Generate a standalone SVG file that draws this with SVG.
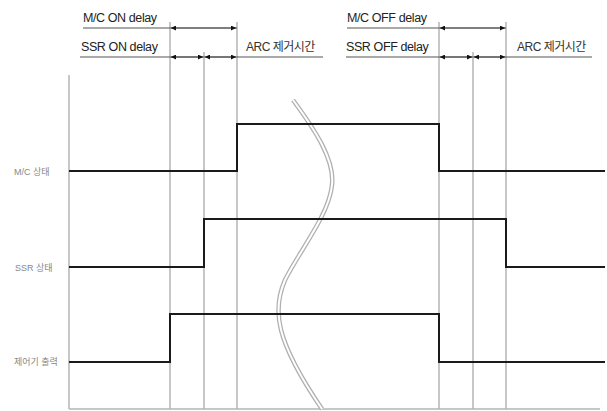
<svg xmlns="http://www.w3.org/2000/svg" width="607" height="411" viewBox="0 0 607 411">
<style>
.guide{stroke:#b4b4b4;stroke-width:1.5;fill:none}
.dim{stroke:#555;stroke-width:1.2;fill:none}
.wave{stroke:#1a1a1a;stroke-width:2;fill:none}
.t{font-family:"Liberation Sans",Arial,sans-serif;font-size:12.5px;fill:#222;letter-spacing:-0.4px}
.arc{font-family:"Liberation Sans","Noto Sans CJK KR",sans-serif;font-size:12px;fill:#333;letter-spacing:-0.5px}
.lab{font-family:"Liberation Sans","Noto Sans CJK KR",sans-serif;font-size:9px;fill:#888}
</style>
<defs>
<marker id="ah" viewBox="0 0 10 10" refX="10" refY="5" markerWidth="6" markerHeight="5" markerUnits="userSpaceOnUse" orient="auto-start-reverse">
<path d="M0,0 L10,5 L0,10 z" fill="#111"/>
</marker>
</defs>
<rect width="607" height="411" fill="#fff"/>
<g id="axes">
<line class="guide" x1="69" y1="75" x2="69" y2="409"/>
<line class="guide" x1="69" y1="409" x2="600" y2="409"/>
</g>
<g id="guides">
<line class="guide" x1="170" y1="22" x2="170" y2="409"/>
<line class="guide" x1="204" y1="52" x2="204" y2="409"/>
<line class="guide" x1="237" y1="22" x2="237" y2="409"/>
<line class="guide" x1="439" y1="22" x2="439" y2="409"/>
<line class="guide" x1="473" y1="52" x2="473" y2="409"/>
<line class="guide" x1="506" y1="22" x2="506" y2="409"/>
</g>
<g id="break">
<path d="M293,100 C315,130 335,160 332,185 C329,215 300,250 285,280 C272,310 275,340 322,409" stroke="#b0b0b0" stroke-width="4.5" fill="none"/>
<path d="M293,100 C315,130 335,160 332,185 C329,215 300,250 285,280 C272,310 275,340 322,409" stroke="#fff" stroke-width="2" fill="none"/>
</g>
<g id="labels-top">
<text class="t" x="83" y="22">M/C ON delay</text>
<text class="t" x="81" y="51">SSR ON delay</text>
<text class="arc" x="246" y="51">ARC 제거시간</text>
<text class="t" x="347" y="22">M/C OFF delay</text>
<text class="t" x="346" y="51">SSR OFF delay</text>
<text class="arc" x="517" y="51">ARC 제거시간</text>
</g>
<g id="connectors">
<line class="dim" x1="83" y1="28" x2="237" y2="28"/>
<line class="dim" x1="80" y1="57" x2="323" y2="57"/>
<line class="dim" x1="347" y1="28" x2="506" y2="28"/>
<line class="dim" x1="346" y1="57" x2="592" y2="57"/>
<line class="dim" x1="171" y1="28" x2="236" y2="28" marker-start="url(#ah)" marker-end="url(#ah)"/>
<line class="dim" x1="171" y1="57" x2="203" y2="57" marker-start="url(#ah)" marker-end="url(#ah)"/>
<line class="dim" x1="205" y1="57" x2="236" y2="57" marker-start="url(#ah)" marker-end="url(#ah)"/>
<line class="dim" x1="440" y1="28" x2="505" y2="28" marker-start="url(#ah)" marker-end="url(#ah)"/>
<line class="dim" x1="440" y1="57" x2="472" y2="57" marker-start="url(#ah)" marker-end="url(#ah)"/>
<line class="dim" x1="474" y1="57" x2="505" y2="57" marker-start="url(#ah)" marker-end="url(#ah)"/>
</g>
<g id="mc">
<text class="lab" x="14" y="175">M/C 상태</text>
<path class="wave" d="M69,171 H237 V124 H439 V171 H605"/>
</g>
<g id="ssr">
<text class="lab" x="15" y="271">SSR 상태</text>
<path class="wave" d="M69,267 H204 V219 H506 V267 H605"/>
</g>
<g id="ctrl">
<text class="lab" x="14" y="365">제어기 출력</text>
<path class="wave" d="M69,362 H170 V314 H439 V362 H605"/>
</g>
</svg>
